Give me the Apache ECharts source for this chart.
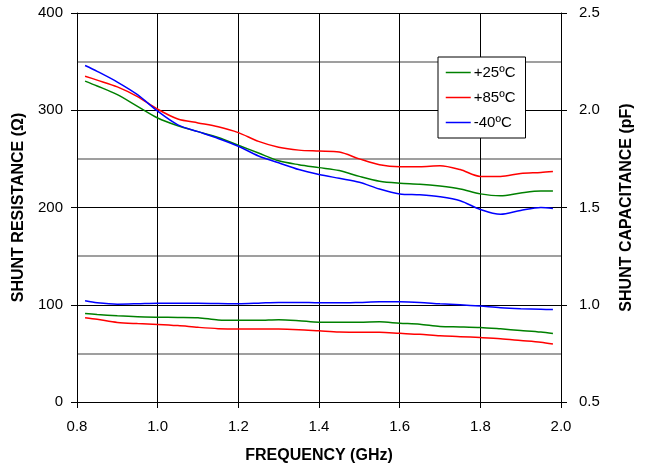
<!DOCTYPE html>
<html>
<head>
<meta charset="utf-8">
<script src="https://cdn.jsdelivr.net/npm/echarts@6/dist/echarts.min.js"></script>
<style>
  html, body { margin: 0; padding: 0; background: #fff; }
  #chart { width: 651px; height: 469px; }
</style>
</head>
<body>
<div id="chart"></div>
<script>
// frequency samples (GHz)
var freq = [0.82, 0.85, 0.9, 0.95, 1.0, 1.05, 1.1, 1.15, 1.2, 1.25, 1.3, 1.35, 1.4,
            1.45, 1.5, 1.55, 1.6, 1.65, 1.7, 1.75, 1.8, 1.85, 1.9, 1.95, 1.98];

// shunt resistance (ohm), left axis
var res25 = [330, 325, 316, 304, 292, 284, 278, 272, 264, 256, 248, 244, 241,
             238, 232, 227, 225, 224, 222, 219, 214, 212, 215, 217, 217];
var res85 = [335, 331, 324, 314, 301, 291, 287, 283, 277, 268, 262, 259, 258,
             257, 250, 244, 242, 242, 243, 239, 232, 232, 235, 236, 237];
var resM40 = [346, 340, 329, 316, 299, 285, 278, 271, 263, 253, 246, 239, 234,
              230, 226, 219, 214, 213, 211, 207, 198, 193, 197, 200, 199];

// shunt capacitance (pF), right axis
var cap25 = [0.955, 0.95, 0.943, 0.938, 0.936, 0.935, 0.933, 0.922, 0.92, 0.92, 0.923, 0.918, 0.91,
             0.91, 0.91, 0.912, 0.905, 0.9, 0.888, 0.886, 0.883, 0.876, 0.868, 0.86, 0.852];
var cap85 = [0.933, 0.925, 0.909, 0.903, 0.899, 0.893, 0.884, 0.877, 0.875, 0.875, 0.875, 0.872, 0.866,
             0.86, 0.858, 0.858, 0.853, 0.848, 0.84, 0.836, 0.831, 0.825, 0.816, 0.807, 0.798];
var capM40 = [1.02, 1.01, 1.003, 1.005, 1.008, 1.008, 1.008, 1.006, 1.005, 1.008, 1.012, 1.012, 1.01,
              1.01, 1.012, 1.015, 1.015, 1.012, 1.005, 1.0, 0.993, 0.985, 0.98, 0.977, 0.975];

var temps = ['+25ºC', '+85ºC', '-40ºC'];
var colors = ['#008000', '#ff0000', '#0000ff'];

function pairs(ys) {
  return freq.map(function (f, i) { return [f, ys[i]]; });
}

var font = 'Arial, "Liberation Sans", sans-serif';

function mkSeries(name, ys, axisIdx, color) {
  return {
    name: name,
    type: 'line',
    yAxisIndex: axisIdx,
    data: pairs(ys),
    symbol: 'none',
    smooth: 0.3,
    lineStyle: { color: color, width: 1.5 },
    itemStyle: { color: color },
    animation: false
  };
}

var chart = echarts.init(document.getElementById('chart'));
chart.setOption({
  backgroundColor: '#fff',
  animation: false,
  grid: { left: 77, right: 90, top: 13, bottom: 65 },
  legend: {
    orient: 'vertical',
    left: 438,
    top: 57,
    data: temps,
    backgroundColor: '#fff',
    borderColor: '#000',
    borderWidth: 1,
    borderRadius: 0,
    padding: [8, 10, 8, 7],
    itemWidth: 25,
    itemHeight: 14,
    itemGap: 10,
    itemStyle: { opacity: 0 },
    lineStyle: { width: 1.5 },
    textStyle: { fontFamily: font, fontSize: 15, color: '#000', padding: [0, 0, 0, -2] }
  },
  xAxis: {
    type: 'value',
    min: 0.8,
    max: 2.0,
    interval: 0.2,
    name: 'FREQUENCY (GHz)',
    nameLocation: 'middle',
    nameGap: 46,
    nameTextStyle: { fontFamily: font, fontSize: 16, fontWeight: 'bold', color: '#000' },
    axisLine: { lineStyle: { color: '#000', width: 1 } },
    axisTick: { show: true, length: 6, lineStyle: { color: '#000' } },
    axisLabel: {
      fontFamily: font, fontSize: 15, color: '#000', margin: 17,
      formatter: function (v) { return v.toFixed(1); }
    },
    splitLine: { show: true, lineStyle: { color: '#000', width: 1 } }
  },
  yAxis: [
    {
      type: 'value',
      min: 0,
      max: 400,
      interval: 100,
      name: 'SHUNT RESISTANCE (Ω)',
      nameLocation: 'middle',
      nameRotate: 90,
      nameGap: 42,
      nameTextStyle: { fontFamily: font, fontSize: 16, fontWeight: 'bold', color: '#000' },
      axisLine: { show: true, lineStyle: { color: '#000', width: 1 } },
      axisTick: { show: true, length: 6, lineStyle: { color: '#000' } },
      axisLabel: { fontFamily: font, fontSize: 15, color: '#000', margin: 14 },
      splitLine: { show: true, lineStyle: { color: '#000', width: 1 } },
      minorTick: { show: false, splitNumber: 2 },
      minorSplitLine: { show: true, lineStyle: { color: '#808080', width: 1.5 } }
    },
    {
      type: 'value',
      min: 0.5,
      max: 2.5,
      interval: 0.5,
      position: 'right',
      name: 'SHUNT CAPACITANCE (pF)',
      nameLocation: 'middle',
      nameRotate: 90,
      nameGap: 58,
      nameTextStyle: { fontFamily: font, fontSize: 16, fontWeight: 'bold', color: '#000' },
      axisLine: { show: true, lineStyle: { color: '#000', width: 1 } },
      axisTick: { show: true, length: 6, lineStyle: { color: '#000' } },
      axisLabel: {
        fontFamily: font, fontSize: 15, color: '#000', margin: 18,
        formatter: function (v) { return v.toFixed(1); }
      },
      splitLine: { show: false }
    }
  ],
  series: [
    mkSeries(temps[0], res25, 0, colors[0]),
    mkSeries(temps[1], res85, 0, colors[1]),
    mkSeries(temps[2], resM40, 0, colors[2]),
    mkSeries(temps[0], cap25, 1, colors[0]),
    mkSeries(temps[1], cap85, 1, colors[1]),
    mkSeries(temps[2], capM40, 1, colors[2])
  ]
});
</script>
</body>
</html>
